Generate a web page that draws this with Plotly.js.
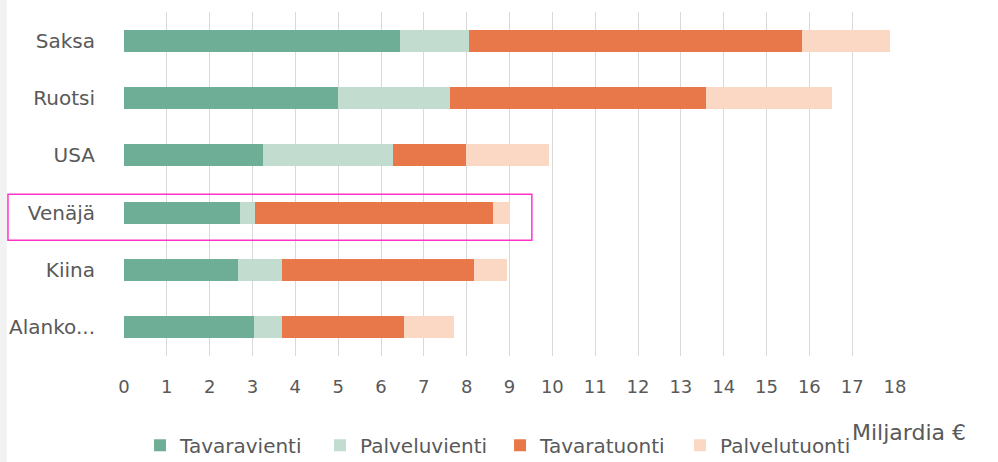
<!DOCTYPE html>
<html>
<head>
<meta charset="utf-8">
<script src="https://cdn.plot.ly/plotly-3.0.1.min.js"></script>
<style>
  html, body { margin: 0; padding: 0; background: #ffffff; }
  #chart { width: 998px; height: 462px; }
</style>
</head>
<body>
<div id="chart"></div>
<script>
// Categories (top to bottom)
const categories = ['Saksa', 'Ruotsi', 'USA', 'Venäjä', 'Kiina', 'Alankomaat'];
const categoryLabels = ['Saksa', 'Ruotsi', 'USA', 'Venäjä', 'Kiina', 'Alanko...'];

// Series values (miljardia €)
const tavaravienti  = [6.44, 5.00, 3.25, 2.71, 2.67, 3.04];
const palveluvienti = [1.61, 2.60, 3.04, 0.35, 1.03, 0.66];
const tavaratuonti  = [7.79, 5.98, 1.69, 5.56, 4.47, 2.84];
const palvelutuonti = [2.04, 2.94, 1.94, 0.40, 0.76, 1.17];

const seriesNames = ['Tavaravienti', 'Palveluvienti', 'Tavaratuonti', 'Palvelutuonti'];
const seriesColors = ['#6fae96', '#c2dcd0', '#e8784a', '#fad8c4'];
const seriesValues = [tavaravienti, palveluvienti, tavaratuonti, palvelutuonti];

const xTicks = [0,1,2,3,4,5,6,7,8,9,10,11,12,13,14,15,16,17,18];
const highlighted = 'Venäjä';

const fontFamily = '"DejaVu Sans", sans-serif';
const textColor = '#595959';

const traces = seriesNames.map((name, i) => ({
  type: 'bar',
  orientation: 'h',
  name: name,
  y: categories,
  x: seriesValues[i],
  marker: { color: seriesColors[i], line: { width: 0 } },
  hoverinfo: 'x+y+name'
}));

const hIdx = categories.indexOf(highlighted);

const layout = {
  width: 998,
  height: 462,
  margin: { l: 124, r: 103, t: 12, b: 106 },
  paper_bgcolor: '#ffffff',
  plot_bgcolor: '#ffffff',
  barmode: 'stack',
  bargap: 0.616,
  showlegend: true,
  font: { family: fontFamily, color: textColor },
  xaxis: {
    range: [0, 18],
    tickvals: xTicks,
    ticktext: xTicks.map(String),
    showgrid: true,
    gridcolor: '#d9d9d9',
    gridwidth: 1,
    zeroline: false,
    showline: false,
    ticks: '',
    ticklabelstandoff: 18,
    tickfont: { family: fontFamily, size: 18, color: textColor },
    fixedrange: true
  },
  yaxis: {
    type: 'category',
    categoryorder: 'array',
    categoryarray: categories,
    tickvals: categories,
    ticktext: categoryLabels,
    autorange: 'reversed',
    showgrid: false,
    zeroline: false,
    showline: false,
    ticks: '',
    ticklabelstandoff: 28,
    tickfont: { family: fontFamily, size: 20, color: textColor },
    fixedrange: true
  },
  legend: {
    orientation: 'h',
    xref: 'container',
    x: 0.1403,
    xanchor: 'left',
    yref: 'container',
    y: 0.036,
    yanchor: 'middle',
    font: { family: fontFamily, size: 20, color: textColor },
    itemwidth: 30,
    entrywidth: 135,
    entrywidthmode: 'pixels',
    traceorder: 'normal',
    bgcolor: 'rgba(0,0,0,0)'
  },
  annotations: [{
    text: 'Miljardia €',
    xref: 'paper', yref: 'paper',
    x: 1.0947, y: -0.222,
    xanchor: 'right', yanchor: 'middle',
    showarrow: false,
    font: { family: fontFamily, size: 22, color: textColor }
  }],
  shapes: [
    {
      type: 'rect',
      xref: 'paper', yref: 'paper',
      x0: -0.161, x1: -0.152, y0: -0.32, y1: 1.05,
      fillcolor: '#f2f2f2', line: { width: 0 }, layer: 'below'
    },
    {
      type: 'rect',
      xref: 'paper', yref: 'y',
      x0: -0.1505, x1: 0.529,
      y0: hIdx - 0.32, y1: hIdx + 0.48,
      line: { color: '#ff33cc', width: 1.5 },
      fillcolor: 'rgba(0,0,0,0)',
      layer: 'above'
    }
  ]
};

Plotly.newPlot('chart', traces, layout, { displayModeBar: false, staticPlot: true });
</script>
</body>
</html>
